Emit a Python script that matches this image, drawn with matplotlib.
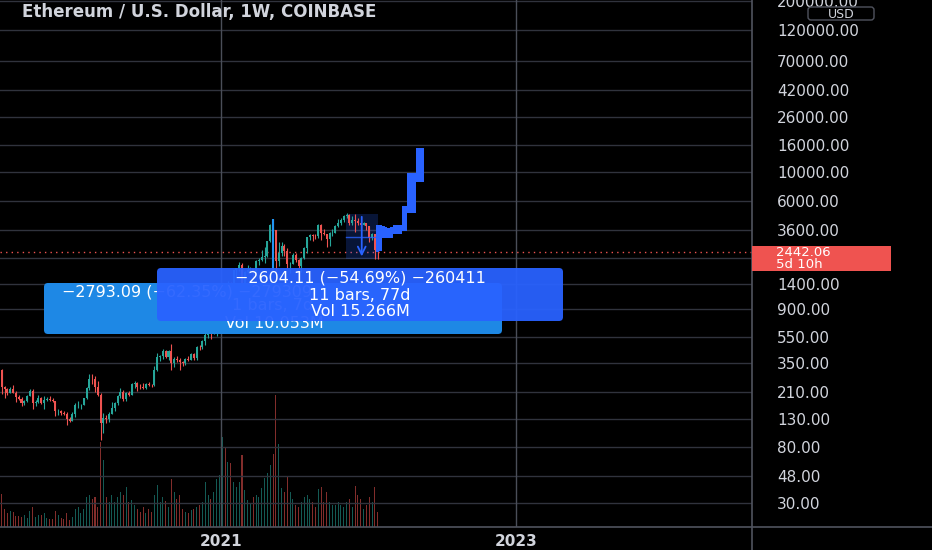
import numpy as np
import pandas as pd
import matplotlib
matplotlib.use('Agg')
import matplotlib.pyplot as plt
import matplotlib.dates as mdates
from matplotlib.patches import FancyBboxPatch, Rectangle
from matplotlib.transforms import IdentityTransform
from matplotlib.lines import Line2D

# ==========================================
# Data: ETH/USD weekly candles, week of 2019-07-08 on
# ==========================================
first_open = 307

closes = [
    # 2019
    228, 220, 206, 222, 208, 194, 187, 172, 181, 197, 215, 174, 176, 190, 172,
    182, 186, 183, 178, 151, 151, 145, 142, 132, 127, 143,
    # 2020
    166, 167, 167, 189, 224, 265, 262, 231, 200, 123, 133, 130, 143, 158, 172,
    196, 211, 186, 207, 200, 243, 246, 231, 229, 226, 241, 239, 236, 310, 390,
    395, 431, 387, 428, 352, 375, 370, 354, 352, 375, 369, 406, 383, 465, 460,
    510, 575, 595, 585, 640, 685, 975,
    # 2021
    1260, 1230, 1390, 1313, 1780, 1835, 1935, 1420, 1720, 1790, 1810, 1710,
    2080, 2140, 2240, 2300, 2950, 3910, 3580, 2100, 2400, 2710, 2510, 1970,
    1980, 2330, 2140, 1900, 2190, 2610, 3160, 3310, 3230, 3220, 3930, 3410,
    3330, 3060, 3390, 3420, 3850, 4050, 4290, 4610, 4650, 4090, 4290, 4190,
    4060, 3920, 4050, 3830,
    # 2022
    3145, 3330, 2530, 2442.06,
]

highs = [
    316, 235, 226, 228, 237, 213, 200, 193, 183, 198, 223, 220, 183, 198, 193,
    197, 191, 197, 190, 178, 157, 152, 150, 149, 135, 148,
    172, 180, 170, 190, 228, 290, 287, 278, 253, 208, 145, 140, 148, 175, 175,
    200, 227, 216, 210, 214, 248, 253, 250, 240, 247, 245, 250, 243, 329, 417,
    400, 445, 442, 440, 488, 390, 395, 383, 363, 380, 395, 420, 415, 470, 475,
    525, 623, 636, 600, 675, 745, 1010,
    1350, 1350, 1475, 1440, 1790, 1860, 2040, 2030, 1740, 1940, 1870, 1820,
    2140, 2200, 2550, 2650, 2960, 3970, 4380, 3600, 2900, 2900, 2800, 2610,
    2050, 2400, 2400, 2150, 2250, 2680, 3190, 3340, 3330, 3380, 4030, 3970,
    3680, 3350, 3460, 3640, 3960, 4380, 4460, 4670, 4870, 4770, 4570, 4780,
    4420, 4090, 4130, 4100,
    3840, 3410, 3370, 2700,
]

lows = [
    204, 190, 199, 205, 205, 175, 183, 165, 168, 176, 196, 155, 165, 173, 170,
    156, 178, 179, 175, 138, 140, 140, 140, 117, 124, 126,
    136, 160, 155, 166, 187, 218, 240, 210, 195, 90, 103, 122, 125, 142, 150,
    168, 188, 180, 180, 195, 198, 224, 215, 222, 220, 222, 234, 228, 235, 303,
    360, 375, 380, 370, 310, 325, 357, 310, 330, 336, 360, 366, 370, 370, 440,
    450, 480, 540, 530, 580, 560, 680,
    880, 1000, 1080, 1170, 1290, 1570, 1750, 1400, 1410, 1700, 1740, 1550,
    1700, 1960, 2100, 2000, 2250, 2940, 3300, 1730, 1900, 2300, 2300, 1860,
    1700, 1980, 2070, 1860, 1720, 2150, 2420, 3000, 2950, 3090, 3150, 3030,
    3270, 2650, 2740, 3250, 3390, 3820, 3900, 4150, 4410, 3960, 3920, 3500,
    3900, 3640, 3900, 3600,
    2930, 3000, 2160, 2160,
]

# weekly volume, thousand ETH
volumes = [
    1320, 720, 560, 640, 600, 440, 440, 400, 480, 360, 640, 800, 400, 480, 480,
    560, 360, 320, 320, 640, 480, 360, 320, 560, 280, 400,
    720, 800, 560, 720, 1200, 1280, 1120, 1200, 800, 3400, 2680, 1200, 1000,
    1280, 1000, 1200, 1400, 1280, 1600, 1000, 1080, 880, 720, 600, 800, 560,
    720, 600, 1280, 1680, 1000, 1200, 1040, 800, 1920, 1400, 1120, 1280, 720,
    600, 560, 680, 720, 800, 880, 1000, 1800, 1280, 1120, 1400, 1920, 2080,
    3600, 3160, 2600, 2560, 1800, 1600, 1800, 2880, 1480, 1080, 920, 1200,
    1280, 1200, 1560, 1960, 2160, 2480, 2920, 5280, 3320, 1560, 1400, 2040,
    1400, 1120, 880, 800, 1000, 1200, 1280, 1120, 1000, 800, 1520, 1600,
    1000, 1400, 1000, 880, 880, 1000, 880, 800, 1000, 1120, 800, 1640, 1280,
    1120, 720, 880,
    1200, 1000, 1600, 600,
]

# projected "bars pattern" drawing (weekly high / low of the blue band)
proj_high = [3930, 3930, 3830, 3800, 3750, 3800, 3930, 3930, 3930,
             5470, 5470, 9800, 9800, 9800, 15100, 15100, 15100]
proj_low = [2440, 2500, 3100, 3100, 3100, 3150, 3330, 3330, 3330,
            3530, 3530, 4830, 4830, 4830, 8300, 8300, 8300]

ytick_vals = [200000, 120000, 70000, 42000, 26000, 16000, 10000, 6000, 3600,
              2200, 1400, 900, 550, 350, 210, 130, 80, 48, 30]
ytick_labels = ['%.2f' % v if v != 2200 else '' for v in ytick_vals]

last_price = 2442.06
range_top, range_bottom = 4761.6, 2157.5

dates = pd.date_range('2019-07-08', periods=len(closes), freq='7D')
proj_dates = pd.date_range('2022-01-20', periods=len(proj_high) + 1, freq='7D')

opens = np.array([first_open] + closes[:-1], dtype=float)
closes = np.array(closes, dtype=float)
up = '#26a69a'
down = '#ef5350'
colors = [up if c >= o else down for o, c in zip(opens, closes)]

# ==========================================
# Figure
# ==========================================
W, H = 932, 550
fig = plt.figure(figsize=(W / 100, H / 100), dpi=100, facecolor='black')


def fx(x):
    return x / W


def fy(y):
    return 1 - y / H


rect = [0, fy(527), 752 / W, 527 / H]
x_ref = mdates.date2num(pd.Timestamp('2021-01-01'))
px_per_day = 147.5 / 365.25
xlim = (x_ref - 221 / px_per_day, x_ref + 531 / px_per_day)

# volume pane (under the candles)
vax = fig.add_axes(rect, zorder=0)
vax.set_facecolor('black')
vax.bar(dates, volumes, width=2.5, color=colors, alpha=0.55)
vax.set_xlim(xlim)
vax.set_ylim(0, 527 * 40)
vax.axis('off')

ax = fig.add_axes(rect, zorder=1)
ax.patch.set_visible(False)
ax.set_yscale('log')
ax.set_ylim(19.7, 203000)
ax.set_xlim(xlim)

# candles
ax.vlines(dates, lows, highs, colors=colors, lw=0.8, zorder=3)
ax.bar(dates, np.abs(closes - opens), bottom=np.minimum(opens, closes),
       width=5, color=colors, zorder=3)

# grid
ax.yaxis.set_minor_locator(matplotlib.ticker.NullLocator())
ax.set_yticks(ytick_vals)
ax.set_yticklabels(ytick_labels)
ax.yaxis.tick_right()
ax.tick_params(axis='y', length=0, pad=18, labelsize=11, labelcolor='#d1d4dc')
for v in ytick_vals:
    ax.axhline(v, color='#30333d', lw=1, zorder=1)

ax.set_xticks([mdates.date2num(pd.Timestamp('2021-01-01')),
               mdates.date2num(pd.Timestamp('2023-01-01'))])
ax.set_xticklabels(['2021', '2023'])
ax.tick_params(axis='x', length=0, pad=5, labelsize=11, labelcolor='#d1d4dc')
for lbl in ax.get_xticklabels():
    lbl.set_fontweight('bold')
for t in ax.get_xticks():
    ax.axvline(t, color='#4a4e58', lw=1, zorder=1)
for s in ax.spines.values():
    s.set_visible(False)

# last price line
ax.axhline(last_price, color='#ef5350', lw=1, ls=(0, (1, 3)), zorder=2)

# projection band
ax.fill_between(proj_dates, np.append(proj_low, proj_low[-1]),
                np.append(proj_high, proj_high[-1]), step='post',
                color='#2962ff', lw=0, zorder=4)

# 1-bar price range (May 2021 top)
ax.vlines(pd.Timestamp('2021-05-10'), 1700, 4380, color='#2196f3', lw=1.5,
          zorder=4)

# 11-bar date & price range
r0 = mdates.date2num(pd.Timestamp('2021-11-06'))
r1 = mdates.date2num(pd.Timestamp('2022-01-24'))
ax.add_patch(Rectangle((r0, range_bottom), r1 - r0, range_top - range_bottom,
                       facecolor=(0.16, 0.38, 1.0, 0.22), edgecolor='none',
                       zorder=2))
rmid = (r0 + r1) / 2
ymid = np.sqrt(range_top * range_bottom)
ax.annotate('', xy=(rmid, range_bottom), xytext=(rmid, range_top),
            arrowprops=dict(arrowstyle='->', color='#2962ff', lw=1.3,
                            mutation_scale=14), zorder=4)
ax.plot([r0, r1], [ymid, ymid], color='#2962ff', lw=1, alpha=0.8, zorder=4)

# ==========================================
# Overlays in pixel space
# ==========================================
ident = IdentityTransform()


def box(x0, y0, x1, y1, color, alpha=1.0, z=5):
    p = FancyBboxPatch((x0, H - y1), x1 - x0, y1 - y0,
                       boxstyle='round,pad=0,rounding_size=4',
                       transform=ident, facecolor=color, edgecolor='none',
                       alpha=alpha, zorder=z)
    fig.patches.append(p)


box(44, 283, 502, 334, '#1e88e5', z=5)
fig.text(fx(62), fy(292), '−2793.09 (−62.35%) −279309', color='white',
         fontsize=11.5, ha='left', va='center', zorder=6)
fig.text(fx(273), fy(306), '1 bars, 7d', color='white', fontsize=11.5,
         ha='center', va='center', zorder=6)
fig.text(fx(274), fy(323), 'Vol 10.053M', color='white', fontsize=11.5,
         ha='center', va='center', zorder=6)

box(157, 268, 563, 321, '#2962ff', alpha=0.95, z=7)
fig.text(fx(360), fy(278), '−2604.11 (−54.69%) −260411', color='white',
         fontsize=11.5, ha='center', va='center', zorder=8)
fig.text(fx(360), fy(296), '11 bars, 77d', color='white', fontsize=11.5,
         ha='center', va='center', zorder=8)
fig.text(fx(360), fy(312), 'Vol 15.266M', color='white', fontsize=11.5,
         ha='center', va='center', zorder=8)

# pane borders
fig.lines.append(Line2D([fx(752), fx(752)], [0, 1], transform=fig.transFigure,
                        color='#50535e', lw=1.2))
fig.lines.append(Line2D([0, 1], [fy(527), fy(527)], transform=fig.transFigure,
                        color='#50535e', lw=1.2))

# last price tag
fig.patches.append(Rectangle((752, H - 271), 139, 25, transform=ident,
                             facecolor='#ef5350', edgecolor='none', zorder=5))
fig.text(fx(776), fy(252), '2442.06', color='white', fontsize=9.5,
         ha='left', va='center', zorder=6)
fig.text(fx(776), fy(265), '5d 10h', color='white', fontsize=9.5,
         ha='left', va='center', zorder=6)

# currency badge
fig.patches.append(FancyBboxPatch((808, H - 20), 66, 13,
                                  boxstyle='round,pad=0,rounding_size=3',
                                  transform=ident, facecolor='black',
                                  edgecolor='#50535e', lw=1, zorder=5))
fig.text(fx(841), fy(14), 'USD', color='#d1d4dc', fontsize=9,
         ha='center', va='center', zorder=6)

# title
fig.text(fx(22), fy(12), 'Ethereum / U.S. Dollar, 1W, COINBASE',
         color='#d1d4dc', fontsize=12, fontweight='bold', ha='left',
         va='center')

fig.savefig('out.png', dpi=100, facecolor='black')
